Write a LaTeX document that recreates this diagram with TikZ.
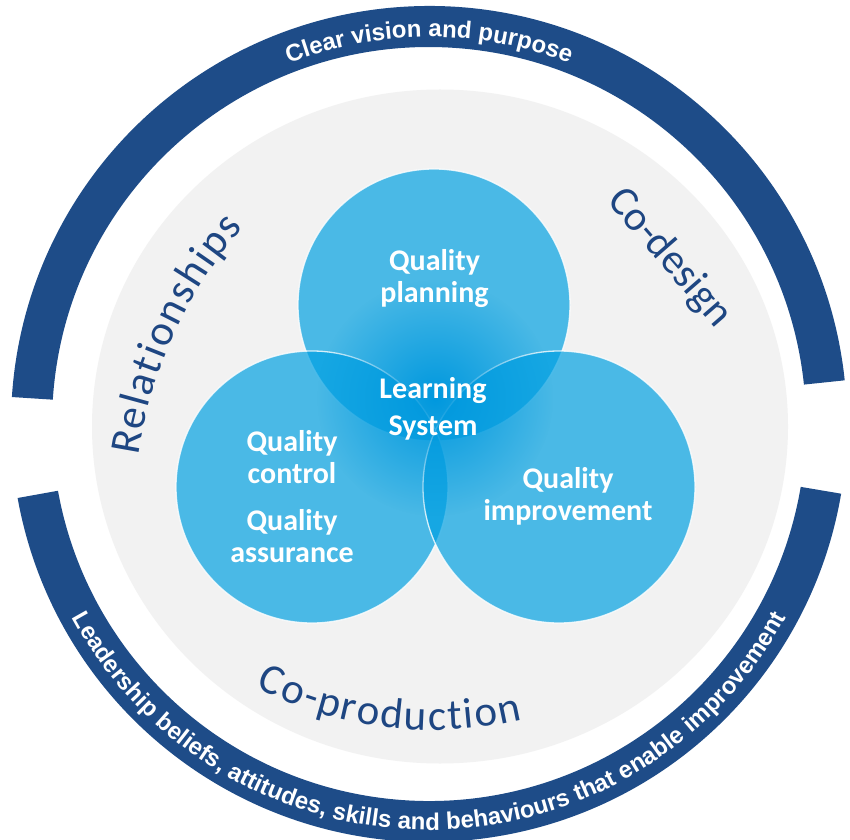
\documentclass[tikz,border=0pt]{standalone}
\usepackage{fontspec}
\newfontfamily\calfont{Carlito}
\newfontfamily\arfont{Liberation Sans}
\usetikzlibrary{decorations.text,fadings}
\definecolor{ringblue}{RGB}{30,76,136}
\definecolor{labelblue}{RGB}{30,70,130}
\definecolor{graybg}{HTML}{F2F2F2}
\definecolor{circblue}{RGB}{0,160,226}
\definecolor{glowblue}{RGB}{0,152,222}
\tikzfading[name=glowfade, inner color=transparent!0, outer color=transparent!100]
\begin{document}
\begin{tikzpicture}[x=1pt,y=1pt,
  venn/.style={circle, inner sep=0pt, minimum size=272pt, fill=circblue, fill opacity=0.69, draw=white, draw opacity=0.8, line width=1.3pt},
  inlabel/.style={text=white, align=center, font=\calfont\bfseries\fontsize{30}{32}\selectfont},
  bandtext/.style={decorate, decoration={text along path, text align=center, text color=white, text={|\arfont\bfseries\fontsize{24}{24}\selectfont|#1}}},
  arclabel/.style={decorate, decoration={text along path, text align={fit to path}, text color=labelblue, text={|\calfont\fontsize{43}{43}\selectfont|#1}}}
]
\useasboundingbox (0,0) rectangle (850,839);
\fill[white] (0,0) rectangle (850,839);
\coordinate (ringc) at (429,415);
\coordinate (grayc) at (440,412.5);
% outer ring arcs
\fill[ringblue] ([shift={(6:418)}]ringc) arc[start angle=6,end angle=176.3,radius=418]
  -- ([shift={(176.3:377)}]ringc) arc[start angle=176.3,end angle=6,radius=377] -- cycle;
\fill[ringblue] ([shift={(190.2:418)}]ringc) arc[start angle=190.2,end angle=350.4,radius=418]
  -- ([shift={(350.4:377)}]ringc) arc[start angle=350.4,end angle=190.2,radius=377] -- cycle;
% grey disc
\fill[graybg] (grayc) ellipse[x radius=348, y radius=337];
% venn circles
\node[venn] (top) at (434,534) {};
\node[venn] (left) at (312,352) {};
\node[venn] (right) at (559,352) {};
% central glow
\coordinate (glowc) at (435,441);
\fill[glowblue, path fading=glowfade] (glowc) circle[radius=118];
% circle labels
\node[inlabel] (qplan) at (434.5,560) {Quality\\planning};
\node[inlabel, font=\calfont\bfseries\fontsize{30}{37}\selectfont] (learn) at (433,430.5) {Learning\\System};
\node[inlabel] (qctrl) at (292,381.5) {Quality\\control};
\node[inlabel] (qassur) at (292,303) {Quality\\assurance};
\node[inlabel] (qimpr) at (568,343) {Quality\\improvement};
% ring texts
\path[bandtext={Clear vision and purpose}] ([shift={(150:387)}]ringc) arc[start angle=150,end angle=30,radius=387];
\path[bandtext={Leadership beliefs, attitudes, skills and behaviours that enable improvement}] ([shift={(195:406)}]ringc) arc[start angle=195,end angle=345,radius=406];
% grey-ring labels
\coordinate (relc) at (588,315);
\path[arclabel={Relationships}] ([shift={(171.4:455)}]relc) arc[start angle=171.4,end angle=139.3,radius=455];
\coordinate (prodc) at (433,499);
\path[arclabel={Co-production}] ([shift={(243:390)}]prodc) arc[start angle=243,end angle=283.3,radius=390];
\node[text=labelblue, font=\calfont\fontsize{42}{42}\selectfont, rotate=-49] (codesign) at (669.5,581) {Co-design};
\end{tikzpicture}
\end{document}
